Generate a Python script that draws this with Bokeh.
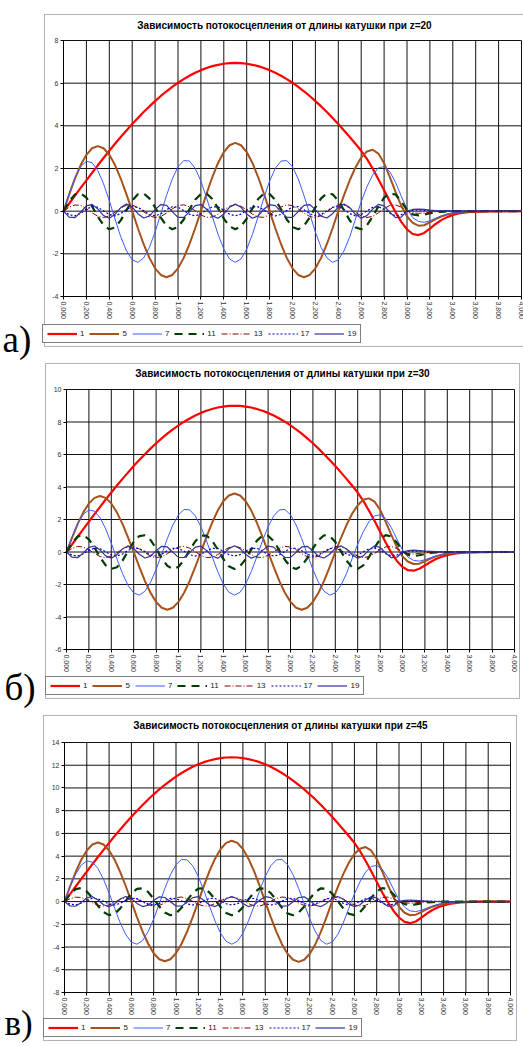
from bokeh.plotting import figure
from bokeh.layouts import column
from bokeh.models import (Range1d, FixedTicker, Label, BoxAnnotation, Legend, LegendItem,
                          LinearAxis)
from bokeh.embed import file_html
from bokeh.resources import INLINE

# ---------------- data ----------------
x_vals = [0.0, 0.05, 0.1, 0.15, 0.2, 0.25, 0.3, 0.35, 0.4, 0.45,
          0.5, 0.55, 0.6, 0.65, 0.7, 0.75, 0.8, 0.85, 0.9, 0.95,
          1.0, 1.05, 1.1, 1.15, 1.2, 1.25, 1.3, 1.35, 1.4, 1.45,
          1.5, 1.55, 1.6, 1.65, 1.7, 1.75, 1.8, 1.85, 1.9, 1.95,
          2.0, 2.05, 2.1, 2.15, 2.2, 2.25, 2.3, 2.35, 2.4, 2.45,
          2.5, 2.55, 2.6, 2.65, 2.7, 2.75, 2.8, 2.85, 2.9, 2.95,
          3.0, 3.05, 3.1, 3.15, 3.2, 3.25, 3.3, 3.35, 3.4, 3.45,
          3.5, 3.55, 3.6, 3.65, 3.7, 3.75, 3.8, 3.85, 3.9, 3.95, 4.0]

x_ticks = [0.0, 0.2, 0.4, 0.6, 0.8, 1.0, 1.2, 1.4, 1.6, 1.8, 2.0,
           2.2, 2.4, 2.6, 2.8, 3.0, 3.2, 3.4, 3.6, 3.8, 4.0]
x_tick_labels = ["0,000", "0,200", "0,400", "0,600", "0,800", "1,000", "1,200",
                 "1,400", "1,600", "1,800", "2,000", "2,200", "2,400", "2,600",
                 "2,800", "3,000", "3,200", "3,400", "3,600", "3,800", "4,000"]

harmonics = ["1", "5", "7", "11", "13", "17", "19"]
titles = ["Зависимость потокосцепления от длины катушки при z=20",
          "Зависимость потокосцепления от длины катушки при z=30",
          "Зависимость потокосцепления от длины катушки при z=45"]
panel_tags = ["а)", "б)", "в)"]

a_yticks = [-4, -2, 0, 2, 4, 6, 8]
b_yticks = [-6, -4, -2, 0, 2, 4, 6, 8, 10]
c_yticks = [-8, -6, -4, -2, 0, 2, 4, 6, 8, 10, 12, 14]

# ----- panel a (z=20) -----
a_h1 = [0, 0.36, 0.73, 1.09, 1.44, 1.80, 2.15, 2.49, 2.83, 3.16, 3.48, 3.78, 4.09, 4.37, 4.65, 4.91,
        5.16, 5.40, 5.62, 5.83, 6.02, 6.19, 6.35, 6.49, 6.61, 6.71, 6.80, 6.86, 6.91, 6.94, 6.95,
        6.94, 6.91, 6.86, 6.80, 6.71, 6.61, 6.49, 6.35, 6.19, 6.02, 5.83, 5.62, 5.40, 5.16, 4.91,
        4.65, 4.37, 4.09, 3.78, 3.48, 3.16,
        2.83, 2.45, 2.00, 1.50, 0.98, 0.45, -0.05, -0.50, -0.85,
        -1.07, -1.12, -1.02, -0.82, -0.60, -0.42, -0.28, -0.18, -0.11, -0.07,
        -0.04, -0.03, -0.02, -0.01, -0.01, 0, 0, 0, 0, 0]
a_h5 = [0, 0.79, 1.53, 2.16, 2.64, 2.95, 3.05, 2.95, 2.64, 2.16, 1.53, 0.79, 0,
        -0.80, -1.55, -2.19, -2.68, -2.99, -3.10, -2.99, -2.68, -2.19, -1.55, -0.80, 0,
        0.83, 1.60, 2.26, 2.77, 3.09, 3.20, 3.09, 2.77, 2.26, 1.60, 0.83, 0,
        -0.80, -1.55, -2.19, -2.68, -2.99, -3.10, -2.99, -2.68, -2.19, -1.55, -0.80, 0,
        0.75, 1.45, 2.05, 2.51, 2.80, 2.88, 2.70, 2.25, 1.60, 0.90, 0.25, -0.25,
        -0.55, -0.68, -0.66, -0.52, -0.37, -0.25, -0.16, -0.10, -0.06, -0.04,
        -0.02, -0.01, 0, 0, 0, 0, 0, 0, 0, 0]
a_h7 = [0, 0.84, 1.57, 2.09, 2.34, 2.27, 1.90, 1.28, 0.49,
        -0.37, -1.20, -1.86, -2.28, -2.40, -2.19, -1.70, -0.98, -0.12,
        0.74, 1.51, 2.08, 2.37, 2.35, 2.01, 1.41, 0.62,
        -0.25, -1.09, -1.78, -2.24, -2.40, -2.24, -1.78, -1.09, -0.25,
        0.62, 1.41, 2.01, 2.35, 2.37, 2.08, 1.51, 0.74,
        -0.12, -0.98, -1.70, -2.19, -2.40, -2.28, -1.86, -1.20, -0.37,
        0.44, 1.14, 1.70, 2.03, 2.09, 1.85, 1.35, 0.70, 0.10,
        -0.30, -0.48, -0.52, -0.45, -0.33, -0.22, -0.14, -0.08, -0.05, -0.03,
        -0.02, -0.01, 0, 0, 0, 0, 0, 0, 0, 0]
a_h11 = [0, 0.46, 0.78, 0.84, 0.63, 0.22, -0.26, -0.66, -0.85, -0.76, -0.43,
         0.04, 0.50, 0.79, 0.83, 0.60, 0.18, -0.30, -0.69, -0.85, -0.74,
         -0.39, 0.09, 0.53, 0.81, 0.82, 0.57, 0.13, -0.35, -0.71, -0.85,
         -0.71, -0.35, 0.13, 0.57, 0.82, 0.81, 0.53, 0.09, -0.39, -0.74,
         -0.85, -0.69, -0.30, 0.18, 0.60, 0.83, 0.79, 0.50, 0.04, -0.43,
         -0.76, -0.85, -0.66, -0.26, 0.22, 0.63, 0.84, 0.78, 0.46, 0.05,
         -0.15, -0.20, -0.16, -0.10, -0.05, -0.03, -0.01, 0, 0, 0,
         0, 0, 0, 0, 0, 0, 0, 0, 0, 0]
a_h13 = [0, 0.19, 0.29, 0.27, 0.12, -0.08, -0.24, -0.30, -0.22, -0.05,
         0.15, 0.28, 0.29, 0.16, -0.03, -0.21, -0.30, -0.25, -0.09, 0.11,
         0.26, 0.30, 0.20, 0.02, -0.18, -0.29, -0.27, -0.14, 0.06, 0.23,
         0.30, 0.23, 0.06, -0.14, -0.27, -0.29, -0.18, 0.02, 0.20, 0.30,
         0.26, 0.11, -0.09, -0.25, -0.30, -0.21, -0.03, 0.16, 0.29, 0.28,
         0.15, -0.05, -0.22, -0.30, -0.24, -0.08, 0.12, 0.27, 0.29, 0.19, 0,
         -0.08, -0.10, -0.08, -0.05, -0.03, -0.01, 0, 0, 0, 0,
         0, 0, 0, 0, 0, 0, 0, 0, 0, 0]
a_h17 = [0, -0.17, -0.22, -0.10, 0.09, 0.21, 0.18, 0.01, -0.16, -0.22,
         -0.11, 0.08, 0.21, 0.18, 0.02, -0.16, -0.22, -0.12, 0.07, 0.21,
         0.19, 0.03, -0.15, -0.22, -0.13, 0.06, 0.20, 0.20, 0.05, -0.14,
         -0.22, -0.14, 0.05, 0.20, 0.20, 0.06, -0.13, -0.22, -0.15, 0.03,
         0.19, 0.21, 0.07, -0.12, -0.22, -0.16, 0.02, 0.18, 0.21, 0.08,
         -0.11, -0.22, -0.16, 0.01, 0.18, 0.21, 0.09, -0.10, -0.22, -0.17, 0,
         0.04, 0.05, 0.04, 0.03, 0.02, 0.02, 0.02, 0.01, 0.01, 0.01,
         0, 0, 0, 0, 0, 0, 0, 0, 0, 0]
a_h19 = [0, -0.28, -0.30, -0.05, 0.25, 0.32, 0.10, -0.21, -0.33, -0.15,
         0.17, 0.33, 0.19, -0.12, -0.32, -0.23, 0.07, 0.31, 0.27, -0.02,
         -0.29, -0.29, -0.03, 0.26, 0.31, 0.09, -0.22, -0.33, -0.13, 0.18,
         0.33, 0.18, -0.13, -0.33, -0.22, 0.09, 0.31, 0.26, -0.03, -0.29,
         -0.29, -0.02, 0.27, 0.31, 0.07, -0.23, -0.32, -0.12, 0.19, 0.33,
         0.17, -0.15, -0.33, -0.21, 0.10, 0.32, 0.25, -0.05, -0.30, -0.28, 0,
         0.08, 0.10, 0.08, 0.05, 0.03, 0.02, 0.01, 0, 0, 0,
         0, 0, 0, 0, 0, 0, 0, 0, 0, 0]

# ----- panel b (z=30) -----
b_h1 = [0, 0.47, 0.94, 1.41, 1.87, 2.33, 2.78, 3.23, 3.66, 4.09, 4.50, 4.90, 5.29, 5.66, 6.02, 6.36,
        6.69, 6.99, 7.28, 7.55, 7.79, 8.02, 8.22, 8.40, 8.56, 8.69, 8.80, 8.89, 8.95, 8.99, 9.00,
        8.99, 8.95, 8.89, 8.80, 8.69, 8.56, 8.40, 8.22, 8.02, 7.79, 7.55, 7.28, 6.99, 6.69, 6.36,
        6.02, 5.66, 5.29, 4.90, 4.50, 4.09,
        3.66, 3.15, 2.55, 1.92, 1.25, 0.58, -0.05, -0.55, -0.92,
        -1.12, -1.15, -1.03, -0.83, -0.61, -0.43, -0.29, -0.19, -0.12, -0.07,
        -0.04, -0.03, -0.02, -0.01, -0.01, 0, 0, 0, 0, 0]
b_h5 = [0, 0.89, 1.73, 2.44, 2.99, 3.33, 3.45, 3.33, 2.99, 2.44, 1.73, 0.89, 0,
        -0.92, -1.78, -2.51, -3.07, -3.43, -3.55, -3.43, -3.07, -2.51, -1.78, -0.92, 0,
        0.93, 1.80, 2.55, 3.12, 3.48, 3.60, 3.48, 3.12, 2.55, 1.80, 0.93, 0,
        -0.92, -1.78, -2.51, -3.07, -3.43, -3.55, -3.43, -3.07, -2.51, -1.78, -0.92, 0,
        0.86, 1.66, 2.35, 2.88, 3.22, 3.30, 3.10, 2.60, 1.85, 1.05, 0.30, -0.28,
        -0.60, -0.74, -0.72, -0.57, -0.40, -0.27, -0.17, -0.11, -0.07, -0.04,
        -0.02, -0.01, 0, 0, 0, 0, 0, 0, 0, 0]
b_h7 = [0, 0.93, 1.74, 2.32, 2.59, 2.51, 2.10, 1.42, 0.54,
        -0.41, -1.33, -2.06, -2.52, -2.65, -2.42, -1.87, -1.08, -0.14,
        0.82, 1.67, 2.29, 2.62, 2.59, 2.22, 1.56, 0.69,
        -0.28, -1.20, -1.97, -2.48, -2.65, -2.48, -1.97, -1.20, -0.28,
        0.69, 1.56, 2.22, 2.59, 2.62, 2.29, 1.67, 0.82,
        -0.14, -1.08, -1.87, -2.42, -2.65, -2.52, -2.06, -1.33, -0.41,
        0.48, 1.25, 1.86, 2.22, 2.29, 2.04, 1.50, 0.80, 0.12,
        -0.32, -0.52, -0.56, -0.48, -0.36, -0.24, -0.15, -0.09, -0.05, -0.03,
        -0.02, -0.01, 0, 0, 0, 0, 0, 0, 0, 0]
b_h11 = [0, 0.57, 0.96, 1.04, 0.78, 0.27, -0.32, -0.82, -1.04, -0.94, -0.53,
         0.05, 0.62, 0.98, 1.03, 0.74, 0.22, -0.38, -0.85, -1.05, -0.91,
         -0.48, 0.11, 0.66, 1.00, 1.01, 0.70, 0.16, -0.43, -0.88, -1.05,
         -0.88, -0.43, 0.16, 0.70, 1.01, 1.00, 0.66, 0.11, -0.48, -0.91,
         -1.05, -0.85, -0.38, 0.22, 0.74, 1.03, 0.98, 0.62, 0.05, -0.53,
         -0.94, -1.04, -0.82, -0.32, 0.27, 0.78, 1.04, 0.96, 0.57, 0.06,
         -0.18, -0.25, -0.20, -0.12, -0.06, -0.03, -0.01, 0, 0, 0,
         0, 0, 0, 0, 0, 0, 0, 0, 0, 0]
b_h13 = [0, 0.22, 0.34, 0.31, 0.14, -0.09, -0.28, -0.35, -0.26, -0.05,
         0.18, 0.33, 0.33, 0.19, -0.04, -0.25, -0.35, -0.29, -0.11, 0.13,
         0.30, 0.35, 0.23, 0.02, -0.21, -0.34, -0.32, -0.16, 0.07, 0.27,
         0.35, 0.27, 0.07, -0.16, -0.32, -0.34, -0.21, 0.02, 0.23, 0.35,
         0.30, 0.13, -0.11, -0.29, -0.35, -0.25, -0.04, 0.19, 0.33, 0.33,
         0.18, -0.05, -0.26, -0.35, -0.28, -0.09, 0.14, 0.31, 0.34, 0.22, 0,
         -0.09, -0.12, -0.09, -0.06, -0.03, -0.01, 0, 0, 0, 0,
         0, 0, 0, 0, 0, 0, 0, 0, 0, 0]
b_h17 = [0, -0.19, -0.24, -0.11, 0.10, 0.24, 0.20, 0.01, -0.19, -0.25,
         -0.13, 0.09, 0.24, 0.21, 0.03, -0.18, -0.25, -0.14, 0.08, 0.23,
         0.22, 0.04, -0.17, -0.25, -0.15, 0.06, 0.23, 0.22, 0.05, -0.16,
         -0.25, -0.16, 0.05, 0.22, 0.23, 0.06, -0.15, -0.25, -0.17, 0.04,
         0.22, 0.23, 0.08, -0.14, -0.25, -0.18, 0.03, 0.21, 0.24, 0.09,
         -0.13, -0.25, -0.19, 0.01, 0.20, 0.24, 0.10, -0.11, -0.24, -0.19, 0,
         0.05, 0.06, 0.05, 0.04, 0.03, 0.02, 0.02, 0.01, 0.01, 0.01,
         0, 0, 0, 0, 0, 0, 0, 0, 0, 0]
b_h19 = [0, -0.32, -0.35, -0.06, 0.28, 0.37, 0.12, -0.24, -0.38, -0.17,
         0.19, 0.38, 0.22, -0.14, -0.37, -0.27, 0.08, 0.35, 0.31, -0.02,
         -0.33, -0.34, -0.04, 0.30, 0.36, 0.10, -0.25, -0.38, -0.15, 0.21,
         0.38, 0.21, -0.15, -0.38, -0.25, 0.10, 0.36, 0.30, -0.04, -0.34,
         -0.33, -0.02, 0.31, 0.35, 0.08, -0.27, -0.37, -0.14, 0.22, 0.38,
         0.19, -0.17, -0.38, -0.24, 0.12, 0.37, 0.28, -0.06, -0.35, -0.32, 0,
         0.09, 0.12, 0.09, 0.06, 0.04, 0.02, 0.01, 0, 0, 0,
         0, 0, 0, 0, 0, 0, 0, 0, 0, 0]

# ----- panel c (z=45) -----
c_h1 = [0, 0.66, 1.33, 1.99, 2.64, 3.29, 3.92, 4.55, 5.17, 5.77, 6.35, 6.92, 7.47, 7.99, 8.50, 8.98,
        9.44, 9.87, 10.27, 10.65, 11.00, 11.32, 11.60, 11.86, 12.08, 12.27, 12.42, 12.54, 12.63, 12.68, 12.70,
        12.68, 12.63, 12.54, 12.42, 12.27, 12.08, 11.86, 11.60, 11.32, 11.00, 10.65, 10.27, 9.87, 9.44, 8.98,
        8.50, 7.99, 7.47, 6.92, 6.35, 5.77,
        5.17, 4.45, 3.60, 2.70, 1.75, 0.80, -0.05, -0.80, -1.40,
        -1.78, -1.90, -1.75, -1.42, -1.05, -0.74, -0.50, -0.33, -0.21, -0.13,
        -0.08, -0.05, -0.03, -0.02, -0.01, -0.01, 0, 0, 0, 0]
c_h5 = [0, 1.35, 2.60, 3.68, 4.50, 5.02, 5.20, 5.02, 4.50, 3.68, 2.60, 1.35, 0,
        -1.36, -2.63, -3.71, -4.55, -5.07, -5.25, -5.07, -4.55, -3.71, -2.63, -1.36, 0,
        1.39, 2.68, 3.78, 4.63, 5.17, 5.35, 5.17, 4.63, 3.78, 2.68, 1.39, 0,
        -1.37, -2.65, -3.75, -4.59, -5.12, -5.30, -5.12, -4.59, -3.75, -2.65, -1.37, 0,
        1.25, 2.42, 3.42, 4.18, 4.65, 4.80, 4.50, 3.75, 2.65, 1.45, 0.40, -0.45,
        -0.98, -1.20, -1.15, -0.92, -0.66, -0.45, -0.30, -0.19, -0.12, -0.07,
        -0.04, -0.02, -0.01, 0, 0, 0, 0, 0, 0, 0]
c_h7 = [0, 1.29, 2.41, 3.21, 3.58, 3.48, 2.91, 1.96, 0.75,
        -0.59, -1.88, -2.91, -3.57, -3.75, -3.43, -2.65, -1.53, -0.20,
        1.16, 2.36, 3.25, 3.71, 3.67, 3.15, 2.21, 0.97,
        -0.39, -1.70, -2.79, -3.50, -3.75, -3.50, -2.79, -1.70, -0.39,
        0.97, 2.21, 3.15, 3.67, 3.71, 3.25, 2.36, 1.16,
        -0.20, -1.53, -2.65, -3.43, -3.75, -3.57, -2.91, -1.88, -0.59,
        0.67, 1.74, 2.59, 3.09, 3.18, 2.85, 2.10, 1.10, 0.15,
        -0.50, -0.82, -0.88, -0.76, -0.57, -0.39, -0.25, -0.15, -0.09, -0.05,
        -0.03, -0.02, -0.01, 0, 0, 0, 0, 0, 0, 0]
c_h11 = [0, 0.65, 1.10, 1.19, 0.89, 0.31, -0.37, -0.93, -1.19, -1.07, -0.60,
         0.06, 0.71, 1.12, 1.17, 0.85, 0.25, -0.43, -0.97, -1.20, -1.04,
         -0.54, 0.13, 0.75, 1.14, 1.16, 0.80, 0.19, -0.49, -1.01, -1.20,
         -1.01, -0.49, 0.19, 0.80, 1.16, 1.14, 0.75, 0.13, -0.54, -1.04,
         -1.20, -0.97, -0.43, 0.25, 0.85, 1.17, 1.12, 0.71, 0.06, -0.60,
         -1.07, -1.19, -0.93, -0.37, 0.31, 0.89, 1.19, 1.10, 0.65, 0.07,
         -0.22, -0.30, -0.24, -0.15, -0.08, -0.04, -0.02, 0, 0, 0,
         0, 0, 0, 0, 0, 0, 0, 0, 0, 0]
c_h13 = [0, 0.25, 0.39, 0.36, 0.16, -0.10, -0.32, -0.40, -0.30, -0.06,
         0.20, 0.37, 0.38, 0.22, -0.04, -0.28, -0.40, -0.34, -0.12, 0.14,
         0.35, 0.40, 0.27, 0.02, -0.24, -0.39, -0.37, -0.18, 0.08, 0.31,
         0.40, 0.31, 0.08, -0.18, -0.37, -0.39, -0.24, 0.02, 0.27, 0.40,
         0.35, 0.14, -0.12, -0.34, -0.40, -0.28, -0.04, 0.22, 0.38, 0.37,
         0.20, -0.06, -0.30, -0.40, -0.32, -0.10, 0.16, 0.36, 0.39, 0.25, 0,
         -0.10, -0.14, -0.10, -0.06, -0.03, -0.01, 0, 0, 0, 0,
         0, 0, 0, 0, 0, 0, 0, 0, 0, 0]
c_h17 = [0, -0.23, -0.29, -0.14, 0.12, 0.29, 0.24, 0.02, -0.22, -0.30,
         -0.15, 0.11, 0.29, 0.25, 0.03, -0.21, -0.30, -0.16, 0.09, 0.28,
         0.26, 0.05, -0.20, -0.30, -0.18, 0.08, 0.27, 0.27, 0.06, -0.19,
         -0.30, -0.19, 0.06, 0.27, 0.27, 0.08, -0.18, -0.30, -0.20, 0.05,
         0.26, 0.28, 0.09, -0.16, -0.30, -0.21, 0.03, 0.25, 0.29, 0.11,
         -0.15, -0.30, -0.22, 0.02, 0.24, 0.29, 0.12, -0.14, -0.29, -0.23, 0,
         0.06, 0.07, 0.06, 0.05, 0.04, 0.03, 0.02, 0.02, 0.01, 0.01,
         0, 0, 0, 0, 0, 0, 0, 0, 0, 0]
c_h19 = [0, -0.38, -0.41, -0.07, 0.33, 0.43, 0.14, -0.28, -0.45, -0.20,
         0.23, 0.45, 0.26, -0.16, -0.44, -0.32, 0.09, 0.42, 0.36, -0.02,
         -0.39, -0.40, -0.05, 0.35, 0.43, 0.12, -0.30, -0.44, -0.18, 0.25,
         0.45, 0.25, -0.18, -0.44, -0.30, 0.12, 0.43, 0.35, -0.05, -0.40,
         -0.39, -0.02, 0.36, 0.42, 0.09, -0.32, -0.44, -0.16, 0.26, 0.45,
         0.23, -0.20, -0.45, -0.28, 0.14, 0.43, 0.33, -0.07, -0.41, -0.38, 0,
         0.11, 0.14, 0.11, 0.07, 0.04, 0.02, 0.01, 0, 0, 0,
         0, 0, 0, 0, 0, 0, 0, 0, 0, 0]

panel_a = [a_h1, a_h5, a_h7, a_h11, a_h13, a_h17, a_h19]
panel_b = [b_h1, b_h5, b_h7, b_h11, b_h13, b_h17, b_h19]
panel_c = [c_h1, c_h5, c_h7, c_h11, c_h13, c_h17, c_h19]

for grp in (panel_a, panel_b, panel_c):
    for s in grp:
        if len(s) != len(x_vals):
            raise ValueError("length mismatch %d" % len(s))

# ---------------- styles ----------------
line_colors = ["#FF0000", "#A6521C", "#3D5CFF", "#003D00", "#8B0000", "#0000CC", "#333399"]
line_widths = [2.2, 2.0, 1.0, 2.2, 1.0, 1.2, 1.2]
line_dashes = ["solid", "solid", "solid", "8 6", "6 2 1 2", "2 2", "solid"]

FONT = "Liberation Sans"
W = 523

# geometry in canvas pixels (top-left origin) for each panel
geoms = [
    dict(h=362, x0=63, x1=521, yt=40, yb=296, box=(44, 524, 14, 346), leg=(42, 343),
         title=(284, 25), tag=(2, 339), tag_size="37px"),
    dict(h=350, x0=66, x1=514, yt=27, yb=287, box=(45, 519, 1, 336), leg=(45, 333),
         title=(282, 11), tag=(4, 325), tag_size="37px"),
    dict(h=334, x0=64, x1=510, yt=30, yb=280, box=(43, 516, 3, 328), leg=(43, 325),
         title=(280, 13), tag=(4, 311), tag_size="35px"),
]


def build(series, yticks, title, tag, g):
    h = g["h"]
    ymin, ymax = yticks[0], yticks[-1]
    sx = (g["x1"] - g["x0"]) / 4.0
    sy = (g["yb"] - g["yt"]) / float(ymax - ymin)
    xr = Range1d(-g["x0"] / sx, 4 + (W - g["x1"]) / sx)
    yr = Range1d(ymin - (h - g["yb"]) / sy, ymax + g["yt"] / sy)

    p = figure(width=W, height=h, output_backend="svg", toolbar_location=None,
               x_range=xr, y_range=yr, x_axis_type=None, y_axis_type=None,
               min_border=0, min_border_left=0, min_border_right=0,
               min_border_top=0, min_border_bottom=0,
               background_fill_color="white", border_fill_color="white")
    p.outline_line_color = None

    # grid lines limited to the plot area
    p.segment(x0=x_ticks, y0=[ymin] * len(x_ticks), x1=x_ticks, y1=[ymax] * len(x_ticks),
              line_color="#111111", line_width=1)
    p.segment(x0=[0] * len(yticks), y0=yticks, x1=[4] * len(yticks), y1=yticks,
              line_color="#111111", line_width=1)

    # axes fixed to the plot area edges
    xa = LinearAxis(fixed_location=ymin, bounds=(0, 4), ticker=FixedTicker(ticks=x_ticks))
    xa.major_label_overrides = {t: s for t, s in zip(x_ticks, x_tick_labels)}
    xa.major_label_orientation = "vertical"
    ya = LinearAxis(fixed_location=0, bounds=(ymin, ymax), ticker=FixedTicker(ticks=yticks))
    ya.major_label_overrides = {t: str(t) for t in yticks}
    for ax in (xa, ya):
        ax.axis_line_color = "black"
        ax.major_tick_line_color = "black"
        ax.major_tick_out = 3
        ax.major_tick_in = 0
        ax.minor_tick_line_color = None
        ax.major_label_text_font = FONT
        ax.major_label_text_font_size = "7px"
        ax.major_label_text_color = "#333333"
        ax.major_label_standoff = 2
    p.add_layout(xa, "below")
    p.add_layout(ya, "left")

    items = []
    for name, ys, c, w, d in zip(harmonics, series, line_colors, line_widths, line_dashes):
        r = p.line(x_vals, ys, line_color=c, line_width=w, line_dash=d)
        items.append(LegendItem(label=name, renderers=[r]))

    bl, br, bt, bb = g["box"]
    p.add_layout(BoxAnnotation(left=bl, right=br, top=h - bt, bottom=h - bb,
                               left_units="screen", right_units="screen",
                               top_units="screen", bottom_units="screen",
                               fill_color=None, line_color="black", line_width=1))

    legend = Legend(items=items, orientation="horizontal",
                    location=(g["leg"][0], h - g["leg"][1]),
                    glyph_width=30, glyph_height=9, label_standoff=3, spacing=5,
                    padding=4, margin=0, label_text_font=FONT, label_text_font_size="8px",
                    label_width=0, label_height=9, label_text_color="#222222",
                    border_line_color="black", border_line_width=1,
                    background_fill_color="white", background_fill_alpha=1.0)
    p.add_layout(legend)

    tx, ty = g["title"]
    p.add_layout(Label(x=tx, y=h - ty, x_units="screen", y_units="screen",
                       text=title, text_align="center", text_baseline="middle",
                       text_font=FONT, text_font_style="bold", text_font_size="10px",
                       text_color="black"))
    gx, gy = g["tag"]
    p.add_layout(Label(x=gx, y=h - gy, x_units="screen", y_units="screen",
                       text=tag, text_align="left", text_baseline="middle",
                       text_font="Liberation Serif", text_font_size=g["tag_size"],
                       text_color="black"))
    return p


pa = build(panel_a, a_yticks, titles[0], panel_tags[0], geoms[0])
pb = build(panel_b, b_yticks, titles[1], panel_tags[1], geoms[1])
pc = build(panel_c, c_yticks, titles[2], panel_tags[2], geoms[2])

layout = column(pa, pb, pc, spacing=0)
open("out.html", "w").write(file_html(layout, INLINE))
